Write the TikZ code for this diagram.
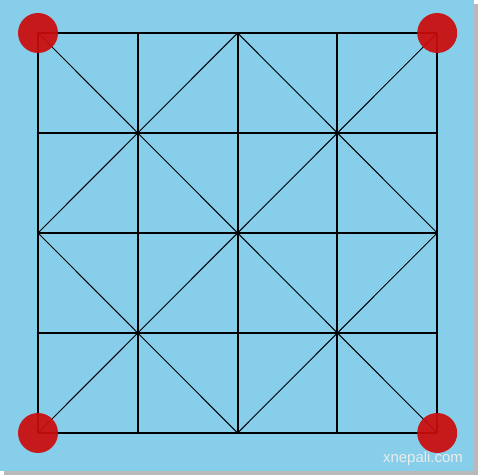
\documentclass[tikz,border=0pt]{standalone}
\usepackage{fontspec}
\setmainfont{Liberation Sans}
\usetikzlibrary{positioning}
\definecolor{skyboard}{RGB}{135,206,235}
\definecolor{tigerred}{RGB}{204,10,10}

\begin{document}
\begin{tikzpicture}[x=0.02cm, y=-0.02cm,
    gridline/.style={line width=1.15pt, draw=black},
    diagline/.style={line width=0.55pt, draw=black},
    tiger/.style={circle, fill=tigerred, fill opacity=0.92, minimum size=0.8cm, inner sep=0pt}]
    % Sfondo con ombra
    \useasboundingbox (0,0) rectangle (478,475);
    \fill[gray!55] (4,4) rectangle (478,475);
    \fill[skyboard] (0,0) rectangle (474.5,471.5);

    % Punti della scacchiera
    \foreach \i in {0,...,4} {
        \foreach \j in {0,...,4} {
            \coordinate (p\i\j) at ({38+99.8*\i}, {33+100*\j});
        }
    }

    % Griglia 4x4
    \foreach \i in {0,...,4} {
        \draw[gridline] (p\i0) -- (p\i4);
        \draw[gridline] (p0\i) -- (p4\i);
    }

    % Diagonali principali
    \draw[diagline] (p00) -- (p44);
    \draw[diagline] (p40) -- (p04);
    % Rombo centrale
    \draw[diagline] (p20) -- (p42) -- (p24) -- (p02) -- cycle;

    % Tigri negli angoli
    \node[tiger] (tigerNW) at (p00) {};
    \node[tiger] (tigerNE) at (p40) {};
    \node[tiger] (tigerSW) at (p04) {};
    \node[tiger] (tigerSE) at (p44) {};

    \node[font=\fontsize{8.5}{10}\selectfont, text=white!85!gray] (mark) at (423,459) {xnepali.com};
\end{tikzpicture}
\end{document}
